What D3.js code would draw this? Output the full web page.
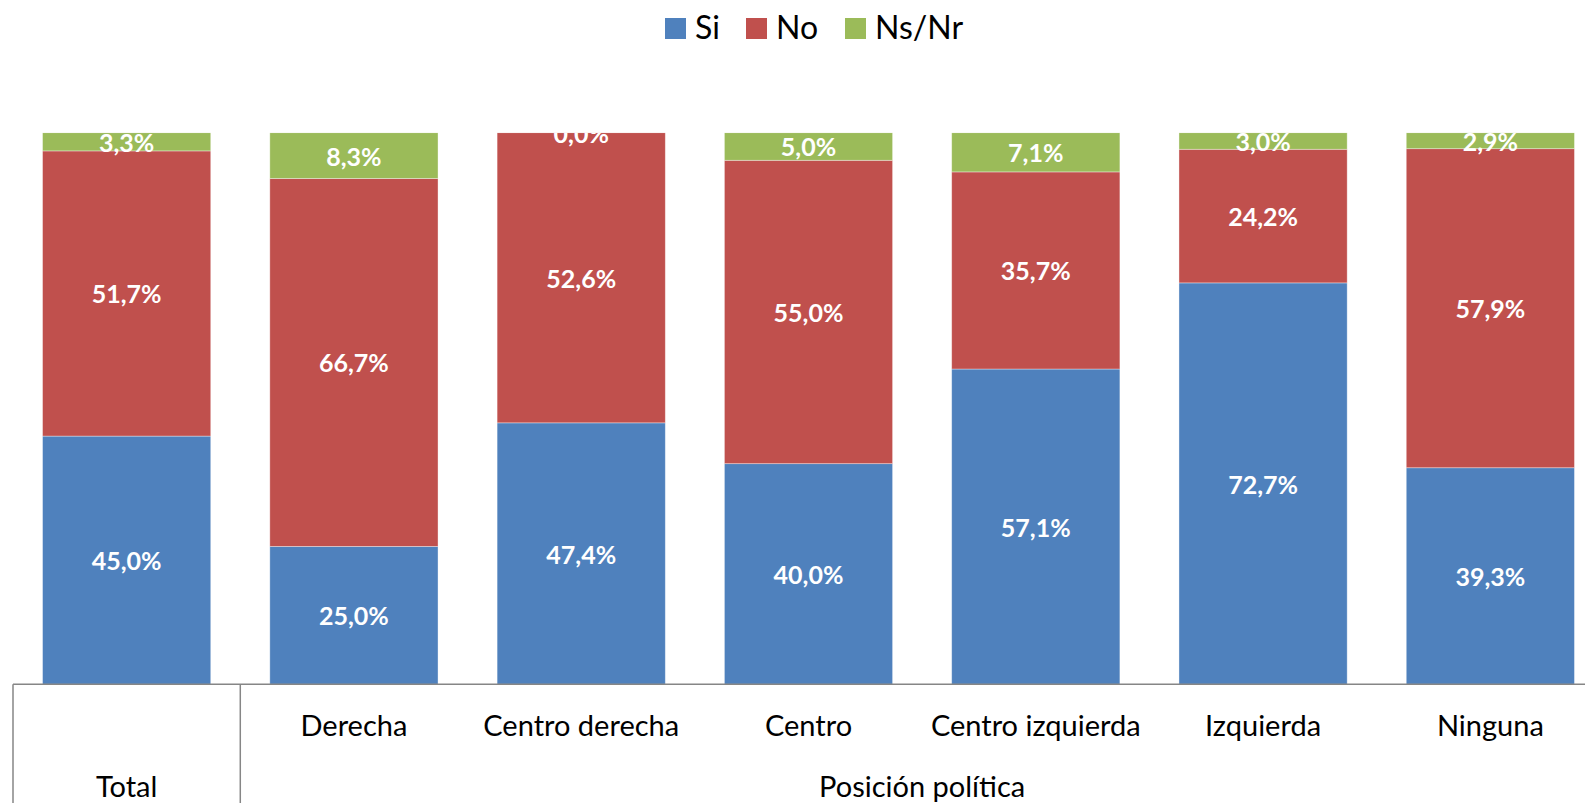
<!DOCTYPE html>
<html>
<head>
<meta charset="utf-8">
<script src="https://cdn.jsdelivr.net/npm/d3@7"></script>
<style>
  body { margin: 0; background: #fff; }
  text { font-family: Lato, "Open Sans", sans-serif; }
</style>
</head>
<body>
<svg id="chart" width="1585" height="803"></svg>
<script>
// data
let categories = ["Total", "Derecha", "Centro derecha", "Centro", "Centro izquierda", "Izquierda", "Ninguna"];
let groups = [{name: "Total", from: 0, to: 0}, {name: "Posición política", from: 1, to: 6}];
let series_names = ["Si", "No", "Ns/Nr"];
let si_values = [45.0, 25.0, 47.4, 40.0, 57.1, 72.7, 39.3];
let no_values = [51.7, 66.7, 52.6, 55.0, 35.7, 24.2, 57.9];
let nsnr_values = [3.3, 8.3, 0.0, 5.0, 7.1, 3.0, 2.9];

let colors = ["#4F81BD", "#C0504D", "#9BBB59"];

let svg = d3.select("#chart");
let plot_top = 132.7, plot_bottom = 684.3;
let plot_left = 13, plot_right = 1604;

let rows = categories.map(function (c, i) {
    return {cat: c, "Si": si_values[i], "No": no_values[i], "Ns/Nr": nsnr_values[i]};
});

let stack = d3.stack().keys(series_names).offset(d3.stackOffsetExpand);
let layers = stack(rows);

let x = d3.scaleBand().domain(categories)
    .range([plot_left, plot_right])
    .paddingInner(0.26).paddingOuter(0.13);
let y = d3.scaleLinear().domain([0, 1]).range([plot_bottom, plot_top]);

let locale = d3.formatLocale({decimal: ",", thousands: ".", grouping: [3], currency: ["", "€"]});
let fmt = locale.format(".1f");

svg.append("defs").append("clipPath").attr("id", "plotclip")
    .append("rect")
    .attr("x", 0).attr("y", plot_top)
    .attr("width", 1585).attr("height", plot_bottom - plot_top);

let plot = svg.append("g").attr("clip-path", "url(#plotclip)");

let layer = plot.selectAll(".layer")
    .data(layers)
    .enter().append("g")
    .attr("class", "layer")
    .attr("fill", (d, i) => colors[i]);

layer.selectAll("rect")
    .data(d => d)
    .enter().append("rect")
    .attr("x", d => x(d.data.cat))
    .attr("width", x.bandwidth())
    .attr("y", d => y(d[1]))
    .attr("height", d => y(d[0]) - y(d[1]))
    .attr("stroke", "rgba(255,255,255,0.45)")
    .attr("stroke-width", 0.8);

// value labels
layers.forEach(function (l) {
    plot.append("g").selectAll("text")
        .data(l)
        .enter().append("text")
        .attr("x", d => x(d.data.cat) + x.bandwidth() / 2)
        .attr("y", d => (y(d[0]) + y(d[1])) / 2)
        .attr("text-anchor", "middle")
        .attr("dominant-baseline", "central")
        .attr("fill", "#fff")
        .attr("font-weight", "bold")
        .attr("font-size", 25)
        .text(d => fmt(d.data[l.key]) + "%");
});

// category axis with group boxes
let axis = svg.append("g");
axis.append("line")
    .attr("x1", plot_left).attr("x2", plot_right)
    .attr("y1", plot_bottom).attr("y2", plot_bottom)
    .attr("stroke", "#868686").attr("stroke-width", 1.5);

let step = x.step();
let bounds = [plot_left];
groups.forEach(function (g) {
    bounds.push(x(categories[g.to]) + x.bandwidth() + (step - x.bandwidth()) / 2);
});
axis.selectAll(".sep")
    .data(bounds)
    .enter().append("line")
    .attr("class", "sep")
    .attr("x1", d => d).attr("x2", d => d)
    .attr("y1", plot_bottom).attr("y2", 803)
    .attr("stroke", "#868686").attr("stroke-width", 1.5);

// inner labels (only categories inside a multi-item group)
axis.selectAll(".catlabel")
    .data(categories.filter((c, i) => i > 0))
    .enter().append("text")
    .attr("class", "catlabel")
    .attr("x", d => x(d) + x.bandwidth() / 2)
    .attr("y", 736)
    .attr("text-anchor", "middle")
    .attr("font-size", 29)
    .attr("fill", "#000")
    .text(d => d);

axis.selectAll(".grplabel")
    .data(groups)
    .enter().append("text")
    .attr("class", "grplabel")
    .attr("x", (d, i) => (bounds[i] + bounds[i + 1]) / 2)
    .attr("y", 797)
    .attr("text-anchor", "middle")
    .attr("font-size", 29)
    .attr("fill", "#000")
    .text(d => d.name);

// legend
let legend_x = [665, 746, 845];
let legend = svg.append("g");
let items = legend.selectAll(".item")
    .data(series_names)
    .enter().append("g")
    .attr("class", "item")
    .attr("transform", (d, i) => "translate(" + legend_x[i] + ",18)");
items.append("rect")
    .attr("width", 21).attr("height", 21)
    .attr("fill", (d, i) => colors[i]);
items.append("text")
    .attr("x", 30).attr("y", 21)
    .attr("font-size", 32)
    .attr("fill", "#000")
    .text(d => d);
</script>
</body>
</html>
